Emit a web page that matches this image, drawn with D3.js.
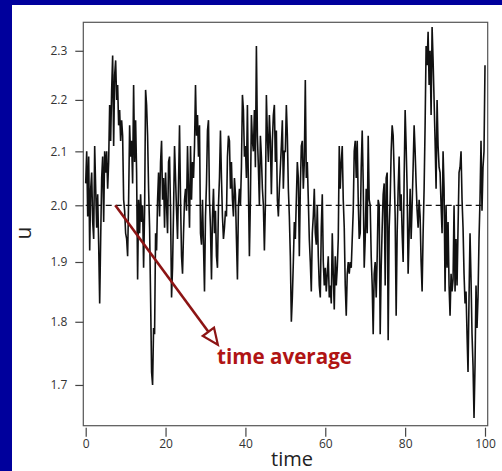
<!DOCTYPE html>
<html>
<head>
<meta charset="utf-8">
<script src="https://cdn.jsdelivr.net/npm/d3@7"></script>
<style>
  body { margin: 0; background: #00009c; }
  .axis text { font-family: "Open Sans", sans-serif; font-size: 12px; fill: #333; }
</style>
</head>
<body>
<div class="chart"></div>
<script>
const u = [
  // 0 - 5
  2.04,2.10,1.98,2.09,1.92,2.03,2.06,1.97,1.94,2.11,2.03,1.96,2.02,1.93,1.83,1.94,2.05,2.09,1.97,2.10,
  // 5 - 10
  2.06,2.10,2.03,2.08,2.19,2.12,2.22,2.29,2.11,2.25,2.28,2.20,2.23,2.15,2.18,2.12,2.16,2.13,2.01,1.99,
  // 10 - 15
  1.95,1.94,1.91,2.01,2.15,2.09,2.12,2.04,2.23,2.08,2.16,2.06,1.87,2.01,1.95,2.02,1.97,2.00,1.89,1.99,
  // 15 - 20
  2.22,2.19,2.13,2.03,1.96,1.84,1.72,1.70,1.79,1.78,1.95,1.92,2.01,2.06,1.98,2.08,2.12,2.01,2.05,1.96,
  // 20 - 25
  2.06,2.00,1.95,2.08,2.09,1.99,1.84,1.89,1.99,2.11,2.05,1.99,1.94,2.04,2.15,2.01,1.91,1.88,1.95,2.01,
  // 25 - 30
  2.03,1.99,2.11,2.03,1.96,2.11,2.01,2.08,2.05,2.11,2.23,2.13,2.17,2.09,2.15,1.95,1.93,2.01,1.93,1.85,
  // 30 - 35
  1.98,2.04,2.14,2.16,2.01,1.96,1.87,1.98,2.03,1.95,1.99,1.91,1.89,2.00,2.05,2.14,2.05,1.98,1.94,1.96,
  // 35 - 40
  1.99,1.98,2.09,2.13,2.12,2.03,2.08,2.01,1.98,2.05,2.02,1.94,1.87,2.00,2.03,2.00,2.07,2.21,2.18,2.09,
  // 40 - 45
  2.11,2.05,2.19,2.03,1.91,2.01,2.17,2.12,2.10,2.18,2.07,2.31,2.13,2.07,2.00,2.13,2.09,2.03,2.00,1.92,
  // 45 - 50
  2.00,2.21,2.13,2.08,2.17,2.12,2.02,2.12,2.17,2.19,2.08,2.14,2.01,1.98,2.03,2.07,2.11,2.16,2.03,2.10,
  // 50 - 55
  2.10,2.19,2.13,2.03,1.98,1.91,1.80,1.84,1.90,1.97,1.94,2.01,2.08,2.05,1.91,2.03,2.11,2.12,2.03,2.08,
  // 55 - 60
  2.24,2.05,2.08,2.01,1.94,1.90,1.85,1.95,1.98,2.03,1.95,1.93,2.00,1.91,1.86,1.84,1.96,2.02,1.90,1.86,
  // 60 - 65
  1.89,1.85,1.88,1.91,1.84,1.86,1.83,1.95,1.88,1.82,1.91,1.86,1.89,1.94,2.11,2.03,2.08,2.11,2.01,1.96,
  // 65 - 70
  1.86,1.81,1.88,1.90,1.88,1.90,1.89,1.94,1.99,2.10,2.12,2.05,2.12,2.01,1.94,1.95,2.07,2.14,2.04,1.89,
  // 70 - 75
  1.94,2.03,1.95,2.13,2.01,2.00,1.91,1.86,1.78,1.88,1.90,1.84,1.91,2.01,2.00,1.78,1.89,1.96,2.02,2.04,
  // 75 - 80
  1.86,2.05,2.06,1.77,1.96,2.01,2.10,2.15,2.13,2.06,1.98,1.81,1.95,2.03,2.09,1.99,2.02,1.95,1.90,2.05,
  // 80 - 85
  2.18,2.11,2.03,1.88,1.95,2.03,1.94,2.00,2.07,2.15,2.10,2.04,1.99,1.96,2.01,1.98,1.90,1.85,1.95,2.03,
  // 85 - 90
  2.15,2.31,2.27,2.34,2.23,2.30,2.17,2.35,2.28,2.20,2.12,2.03,2.20,2.11,2.07,2.06,2.00,1.95,2.10,2.03,
  // 90 - 95
  1.85,2.00,1.89,1.97,1.86,1.81,1.88,1.85,1.87,2.00,1.85,1.94,1.86,1.96,2.06,2.07,2.10,2.01,1.96,1.88,
  // 95 - 100
  1.83,1.85,1.78,1.72,1.84,1.95,1.87,1.78,1.73,1.65,1.73,1.86,1.79,1.84,1.94,2.01,2.12,1.99,2.07,2.10,
  2.27
];
const dt = 0.25;
const uMean = 2.0;

const xTicks = [0, 20, 40, 60, 80, 100];
const yTicks = [1.7, 1.8, 1.9, 2.0, 2.1, 2.2, 2.3];

// annotation: arrow from the mean line to the label
const arrowFrom = {t: 7.4, u: 2.0};
const arrowTo = {t: 33.1, u: 1.763};
const noteText = 'time average';

const W = 502, H = 471;

const svg = d3.select('.chart')
    .append('svg')
    .attr('width', W)
    .attr('height', H)
    .style('display', 'block');

svg.append('rect')
    .attr('x', 0).attr('y', 0)
    .attr('width', W).attr('height', H)
    .attr('fill', '#00009c');

svg.append('rect')
    .attr('x', 12).attr('y', 5)
    .attr('width', W - 12).attr('height', H - 5)
    .attr('fill', '#fff');

const frame = {left: 83.3, right: 487.7, top: 22.3, bottom: 425.7};

const xScale = d3.scaleLinear()
    .domain([0, 100])
    .range([85.7, 485]);
const yScale = d3.scaleLog()
    .domain([1.6385, 2.36])
    .range([frame.bottom, frame.top]);

const data = u.map((v, i) => ({t: i * dt, u: v}));

// plot frame
svg.append('rect')
    .attr('x', frame.left)
    .attr('y', frame.top)
    .attr('width', frame.right - frame.left)
    .attr('height', frame.bottom - frame.top)
    .attr('fill', 'none')
    .attr('stroke', '#555')
    .attr('stroke-width', 1.2);

const xAxis = d3.axisBottom(xScale)
    .tickValues(xTicks)
    .tickFormat(d3.format('d'))
    .tickSizeInner(9)
    .tickSizeOuter(0)
    .tickPadding(3);

const gx = svg.append('g')
    .attr('class', 'axis x-axis')
    .attr('transform', `translate(0, ${frame.bottom + 2})`)
    .call(xAxis);
gx.select('.domain').remove();
gx.selectAll('line').attr('stroke', '#444').attr('stroke-width', 1.2);

const yAxis = d3.axisLeft(yScale)
    .tickValues(yTicks)
    .tickFormat(d3.format('.1f'))
    .tickSizeInner(8)
    .tickSizeOuter(0)
    .tickPadding(8);

const gy = svg.append('g')
    .attr('class', 'axis y-axis')
    .attr('transform', `translate(${frame.left}, 0)`)
    .call(yAxis);
gy.select('.domain').remove();
gy.selectAll('line').attr('stroke', '#444').attr('stroke-width', 1.2);

// axis titles
svg.append('text')
    .text('time')
    .attr('x', 292)
    .attr('y', 466)
    .attr('text-anchor', 'middle')
    .attr('font-family', 'Open Sans, sans-serif')
    .attr('font-size', 20)
    .attr('fill', '#222');

svg.append('text')
    .text('u')
    .attr('transform', 'translate(31, 233) rotate(-90)')
    .attr('text-anchor', 'middle')
    .attr('font-family', 'Open Sans, sans-serif')
    .attr('font-size', 21)
    .attr('fill', '#222');

// time series
const line = d3.line()
    .x(d => xScale(d.t))
    .y(d => yScale(d.u));

svg.append('path')
    .datum(data)
    .attr('d', line)
    .attr('fill', 'none')
    .attr('stroke', '#111')
    .attr('stroke-width', 1.6)
    .attr('stroke-linejoin', 'miter');

// mean line
svg.append('line')
    .attr('x1', xScale(0))
    .attr('x2', xScale(100))
    .attr('y1', yScale(uMean))
    .attr('y2', yScale(uMean))
    .attr('stroke', '#111')
    .attr('stroke-width', 1.3)
    .attr('stroke-dasharray', '6,4');

// arrow
const x0 = xScale(arrowFrom.t), y0 = yScale(arrowFrom.u);
const x1 = xScale(arrowTo.t), y1 = yScale(arrowTo.u);
const len = Math.hypot(x1 - x0, y1 - y0);
const ux = (x1 - x0) / len, uy = (y1 - y0) / len;
const headLen = 16, headW = 7;
const bx = x1 - ux * headLen, by = y1 - uy * headLen;

svg.append('line')
    .attr('x1', x0).attr('y1', y0)
    .attr('x2', bx).attr('y2', by)
    .attr('stroke', '#8c1414')
    .attr('stroke-width', 2.6);

svg.append('path')
    .attr('d', `M${x1},${y1} L${bx - uy * headW},${by + ux * headW} L${bx + uy * headW},${by - ux * headW} Z`)
    .attr('fill', '#fff')
    .attr('stroke', '#8c1414')
    .attr('stroke-width', 2.2)
    .attr('stroke-linejoin', 'miter');

svg.append('text')
    .text(noteText)
    .attr('x', 217)
    .attr('y', 364)
    .attr('font-family', 'Open Sans, sans-serif')
    .attr('font-weight', 'bold')
    .attr('font-size', 22)
    .attr('textLength', 135)
    .attr('lengthAdjust', 'spacingAndGlyphs')
    .attr('fill', '#b01414');
</script>
</body>
</html>
